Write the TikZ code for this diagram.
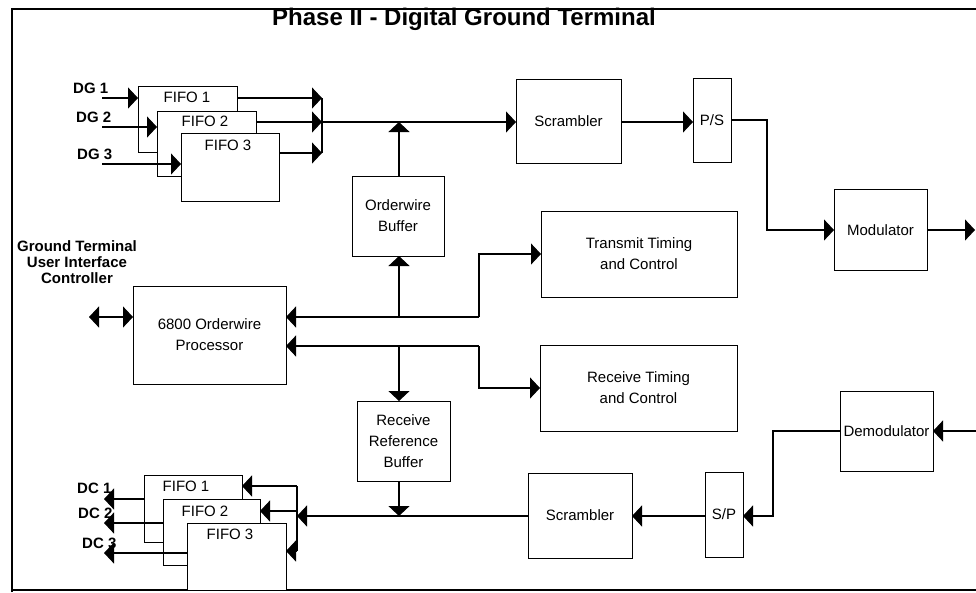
\documentclass[tikz,border=0pt]{standalone}
\usepackage{fontspec}
\setmainfont{Liberation Sans}
\usetikzlibrary{arrows.meta}
\newcommand\bodyfnt{\fontsize{15}{21}\selectfont}
\newcommand\lblfnt{\fontsize{15}{16}\selectfont\bfseries}
\newcommand\ttlfnt{\fontsize{24}{28}\selectfont\bfseries}
\begin{document}
\begin{tikzpicture}[x=1pt,y=-1pt,
  box/.style={draw, line width=1pt, fill=white, inner sep=0pt, outer sep=0pt, align=center, font=\bodyfnt},
  txt/.style={inner sep=0pt, font=\bodyfnt, align=center},
  lbl/.style={inner sep=0pt, font=\lblfnt, align=center},
  conn/.style={line width=1.2pt},
  arr/.style={conn, -{Triangle[length=10pt,width=21pt]}},
  darr/.style={conn, {Triangle[length=10pt,width=21pt]}-{Triangle[length=10pt,width=21pt]}}]
\useasboundingbox (0,0) rectangle (976,592);
% frame
\draw[line width=1.8pt] (12,592) -- (12,9) -- (980,9);
\draw[line width=2pt] (12,590) -- (980,590);
\node[inner sep=0pt, font=\ttlfnt] (ttl) at (464,19) {Phase II - Digital Ground Terminal};
% top FIFOs
\node[box, minimum width=99pt, minimum height=66pt] (tf1) at (187.5,119) {};
\node[box, minimum width=99pt, minimum height=65pt] (tf2) at (206.5,143.5) {};
\node[box, minimum width=98pt, minimum height=68pt] (tf3) at (230,167) {};
\node[txt] (tf1l) at (187,97) {FIFO 1};
\node[txt] (tf2l) at (205,121) {FIFO 2};
\node[txt] (tf3l) at (228,145) {FIFO 3};
\node[lbl, anchor=west] (dg1) at (73,88) {DG 1};
\node[lbl, anchor=west] (dg2) at (76,117) {DG 2};
\node[lbl, anchor=west] (dg3) at (77,154) {DG 3};
% top chain
\node[box, minimum width=105pt, minimum height=84pt] (tscr) at (568.5,121) {Scrambler};
\node[box, minimum width=38pt, minimum height=84pt] (ps) at (712,120) {P/S};
\node[box, minimum width=93pt, minimum height=81pt] (mod) at (880.5,230) {Modulator};
\node[box, minimum width=92pt, minimum height=80pt] (owb) at (398,216) {Orderwire\\Buffer};
\node[box, minimum width=196pt, minimum height=86pt] (tt) at (639,254) {Transmit Timing\\and Control};
\node[box, minimum width=153pt, minimum height=98pt] (proc) at (209.5,335) {6800 Orderwire\\Processor};
\node[box, minimum width=197pt, minimum height=86pt] (rt) at (638.5,388) {Receive Timing\\and Control};
\node[box, minimum width=93pt, minimum height=80pt] (rrb) at (403.5,441) {Receive\\Reference\\Buffer};
\node[lbl] (gtuic) at (77,262) {Ground Terminal\\User Interface\\Controller};
% bottom chain
\node[box, minimum width=104pt, minimum height=85pt] (bscr) at (580,515.5) {Scrambler};
\node[box, minimum width=38pt, minimum height=85pt] (sp) at (724,514.5) {S/P};
\node[box, minimum width=93pt, minimum height=80pt] (dem) at (886.5,431) {Demodulator};
% bottom FIFOs
\node[box, minimum width=98pt, minimum height=67pt] (bf1) at (193,508.5) {};
\node[box, minimum width=97pt, minimum height=66pt] (bf2) at (211.5,532) {};
\node[box, minimum width=99pt, minimum height=67pt] (bf3) at (236.5,556.5) {};
\node[txt] (bf1l) at (186,486) {FIFO 1};
\node[txt] (bf2l) at (205,511) {FIFO 2};
\node[txt] (bf3l) at (230,534) {FIFO 3};
\node[lbl, anchor=west] (dc1) at (77,488) {DC 1};
\node[lbl, anchor=west] (dc2) at (78,513) {DC 2};
\node[lbl, anchor=west] (dc3) at (82,543) {DC 3};
% coordinates
\coordinate (dg1s) at (102,98);
\coordinate (dg2s) at (102,127);
\coordinate (dg3s) at (102,164);
\coordinate (tb1) at (322,98);
\coordinate (tb2) at (322,122);
\coordinate (tb3) at (322,153);
\coordinate (vx) at (399,0);
\coordinate (psm) at (767,0);
\coordinate (modout) at (975,230);
\coordinate (tj) at (479,317);
\coordinate (rj) at (479,346);
\coordinate (gtu) at (89,317);
\coordinate (bb) at (297,516);
\coordinate (bb1) at (297,486);
\coordinate (bb2) at (297,511);
\coordinate (bb3) at (297,551);
\coordinate (dsx) at (773,0);
\coordinate (demin) at (980,431);
\coordinate (dc1e) at (104,499);
\coordinate (dc2e) at (104,523);
\coordinate (dc3e) at (104,553);
% top connectors
\draw[arr] (dg1s) -- (dg1s -| tf1.west);
\draw[arr] (dg2s) -- (dg2s -| tf2.west);
\draw[arr] (dg3s) -- (dg3s -| tf3.west);
\draw[arr] (tb1 -| tf1.east) -- (tb1);
\draw[arr] (tb2 -| tf2.east) -- (tb2);
\draw[arr] (tb3 -| tf3.east) -- (tb3);
\draw[conn] (tb1) -- (tb3);
\draw[arr] (tb2) -- (tb2 -| tscr.west);
\draw[arr] (vx |- owb.north) -- (vx |- tb2);
\draw[arr] (tscr.east |- tb2) -- (ps.west |- tb2);
\draw[arr] (ps.east) -- (ps.east -| psm) -- (psm |- mod.west) -- (mod.west);
\draw[arr] (mod.east) -- (modout);
% processor connectors
\draw[darr] (gtu) -- (proc.west |- gtu);
\draw[arr] (tj) -- (proc.east |- tj);
\draw[arr] (vx |- tj) -- (vx |- owb.south);
\draw[arr] (tj) -- (tj |- tt.west) -- (tt.west);
\draw[arr] (rj) -- (proc.east |- rj);
\draw[arr] (vx |- rj) -- (vx |- rrb.north);
\draw[arr] (rj) -- (rj |- rt.west) -- (rt.west);
% bottom connectors
\draw[arr] (vx |- rrb.south) -- (vx |- bb);
\draw[arr] (bscr.west |- bb) -- (bb);
\draw[conn] (bb1) -- (bb3);
\draw[arr] (bb1) -- (bb1 -| bf1.east);
\draw[arr] (bb2) -- (bb2 -| bf2.east);
\draw[arr] (bb3) -- (bb3 -| bf3.east);
\draw[arr] (sp.west |- bb) -- (bscr.east |- bb);
\draw[arr] (dem.west) -- (dem.west -| dsx) -- (dsx |- bb) -- (sp.east |- bb);
\draw[arr] (demin) -- (dem.east);
\draw[arr] (bf1.west |- dc1e) -- (dc1e);
\draw[arr] (bf2.west |- dc2e) -- (dc2e);
\draw[arr] (bf3.west |- dc3e) -- (dc3e);
\end{tikzpicture}
\end{document}
